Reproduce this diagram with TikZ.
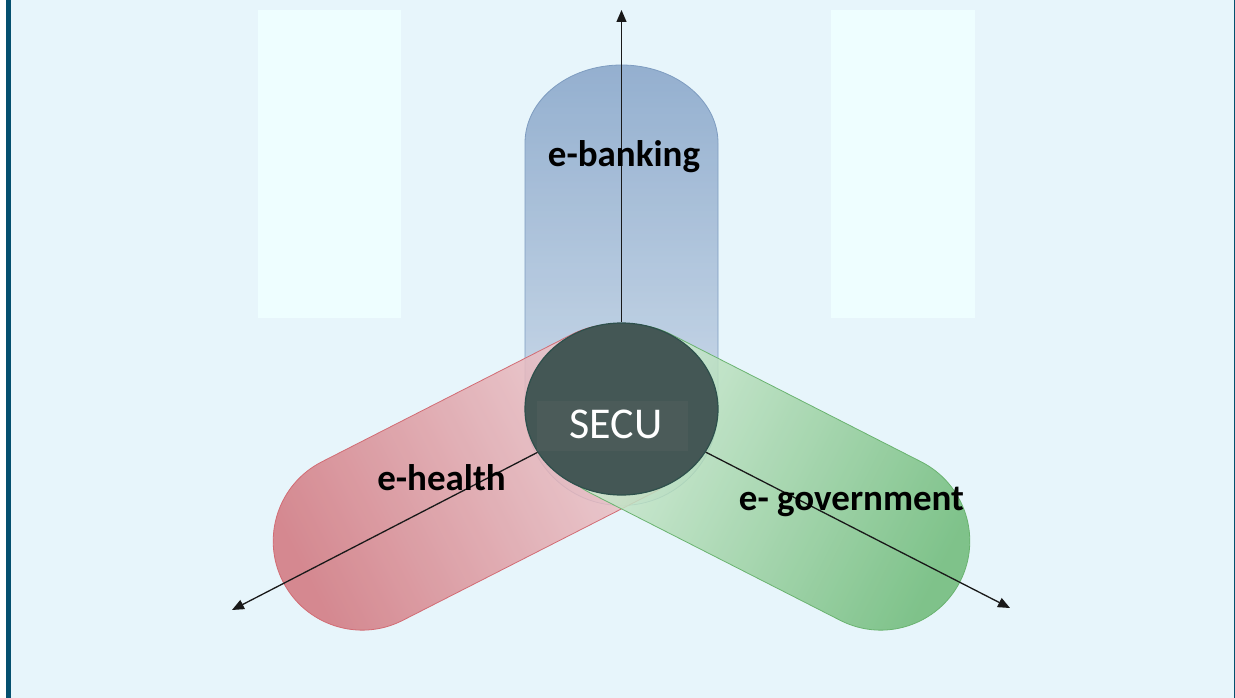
\documentclass[tikz,border=0pt]{standalone}
\usepackage{fontspec}
\setmainfont{Carlito}
\usetikzlibrary{arrows.meta,shapes.geometric}
\definecolor{bg}{HTML}{E7F5FB}
\definecolor{pale}{HTML}{EEFEFF}
\definecolor{edgeblue}{HTML}{05506F}
\definecolor{ellfill}{HTML}{445755}
\definecolor{ellstroke}{HTML}{2E504C}
\definecolor{secufill}{HTML}{4B5B59}
\definecolor{bluetop}{HTML}{86A4C8}
\definecolor{bluebot}{HTML}{D3DFEC}
\definecolor{bluestroke}{HTML}{7E9CC0}
\definecolor{reddark}{HTML}{D2767E}
\definecolor{redlight}{HTML}{F1D6DA}
\definecolor{redstroke}{HTML}{D26C74}
\definecolor{greendark}{HTML}{6DBA77}
\definecolor{greenlight}{HTML}{DDF1DF}
\definecolor{greenstroke}{HTML}{6AB370}
\tikzset{
  capsule/.style={line width=0.8pt, fill opacity=0.85},
  bluecap/.style={capsule, draw=bluestroke, top color=bluetop, bottom color=bluebot, shading angle=0},
  redcap/.style={capsule, draw=redstroke, top color=reddark, bottom color=redlight, shading angle=117},
  greencap/.style={capsule, draw=greenstroke, top color=greendark, bottom color=greenlight, shading angle=243},
  axisarrow/.style={draw=black!90, line width=1.3pt, -{Triangle[length=12pt,width=10pt]}},
  lab/.style={font=\bfseries\fontsize{37}{37}\selectfont, inner sep=0, anchor=base, text=black}
}
\begin{document}
\begin{tikzpicture}[x=1pt,y=-1pt]
\useasboundingbox (0,0) rectangle (1235,698);
\fill[bg] (0,0) rectangle (1235,698);
\fill[white] (0,0) rectangle (6,698);
\fill[edgeblue] (6,0) rectangle (11,698);
\fill[edgeblue] (1233.5,0) rectangle (1235,698);
\fill[pale] (258,10) rectangle (401,318);
\fill[pale] (831,10) rectangle (975,318);
% capsules
\shadedraw[bluecap] (525,409) -- (525,143) arc[start angle=180, end angle=360, x radius=96.5, y radius=78] -- (718,409) arc[start angle=0, end angle=180, radius=96.5] -- cycle;
\shadedraw[redcap] (653.0,492.84) -- (402.63,620.41) arc[start angle=63, end angle=243, radius=89] -- (572.18,334.24) arc[start angle=243, end angle=423, radius=89] -- cycle;
\shadedraw[greencap] (590.0,492.84) -- (840.37,620.41) arc[start angle=117, end angle=-63, radius=89] -- (670.82,334.24) arc[start angle=-63, end angle=-243, radius=89] -- cycle;
% center
\node[ellipse, draw=ellstroke, fill=ellfill, line width=1.2pt, minimum width=193pt, minimum height=172pt, inner sep=0] (secu) at (621.5,409) {};
\node[fill=secufill, minimum width=151pt, minimum height=50pt, inner sep=0] (secubox) at (612.5,426) {};
\node[text=white, font=\fontsize{44}{44}\selectfont, inner sep=0] (secutext) at (616,424) {SECU};
% axes
\coordinate (tN) at (621.5,10);
\coordinate (tL) at (232,610);
\coordinate (tR) at (1010,608);
\draw[axisarrow] (secu) -- (tN);
\draw[axisarrow] (secu) -- (tL);
\draw[axisarrow] (secu) -- (tR);
% labels
\node[lab] (lb) at (624,167) {e-banking};
\node[lab] (lh) at (441.5,490) {e-health};
\node[lab] (lg) at (851.5,510) {e- government};
\end{tikzpicture}
\end{document}
